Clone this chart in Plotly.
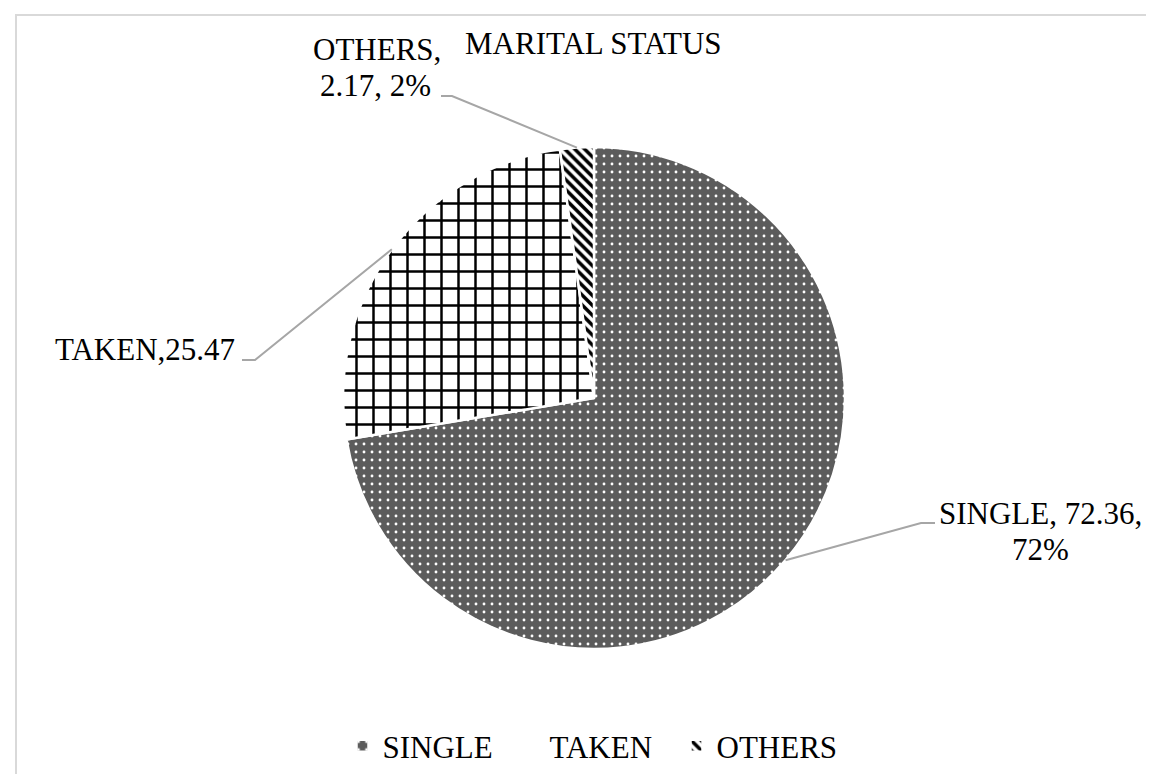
import math
import plotly.graph_objects as go

# ---------------- data ----------------
categories = ["SINGLE", "TAKEN", "OTHERS"]
values = [72.36, 25.47, 2.17]
chart_title = "MARITAL STATUS"

total = sum(values)
percents = [round(v / total * 100) for v in values]

# data-label text (as printed on the chart)
label_lines = [
    [f"{categories[0]}, {values[0]:.2f},", f"{percents[0]}%"],
    [f"{categories[1]},{values[1]:.2f}"],
    [f"{categories[2]},", f"{values[2]:.2f}, {percents[2]}%"],
]

# ---------------- layout constants (pixels) ----------------
W, H = 1154, 774
CX, CY, R = 586, 390, 251          # pie centre and radius
FONT = "Liberation Serif, Times New Roman, serif"
FS = 31
LEADER = "#a6a6a6"

# label placement: elbow of leader, end of short horizontal, and line centres
label_layout = [
    dict(elbow=(913, 515), tip=(927, 515), lines=[(1032, 505), (1032, 541)]),
    dict(elbow=(247, 352), tip=(234, 352), lines=[(137, 341)]),
    dict(elbow=(444, 88), tip=(433, 88), lines=[(369, 42), (368, 78)]),
]


def px(x):
    return x / W


def py(y):
    return 1 - y / H


fig = go.Figure()
fig.add_trace(go.Pie(
    labels=categories,
    values=values,
    sort=False,
    direction="clockwise",
    rotation=0,
    textinfo="none",
    domain=dict(x=[px(CX - R), px(CX + R)], y=[py(CY + R), py(CY - R)]),
    marker=dict(
        colors=["#5c5c5c", "#ffffff", "#ffffff"],
        line=dict(color="white", width=2.5),
        pattern=dict(
            shape=[".", "+", "\\"],
            fgcolor=["#ffffff", "#000000", "#000000"],
            bgcolor=["#5c5c5c", "#ffffff", "#ffffff"],
            size=[8, 17, 7],
            solidity=[0.1, 0.27, 0.5],
            fillmode="replace",
        ),
    ),
))

shapes = []
annotations = []

# chart-area border (top and left visible)
shapes.append(dict(type="rect", xref="paper", yref="paper",
                   x0=px(8), y0=py(7), x1=1.02, y1=-0.02,
                   line=dict(color="#d9d9d9", width=2), fillcolor="rgba(0,0,0,0)",
                   layer="below"))

cum = 0.0
for i, v in enumerate(values):
    mid = (cum + v / 2) / total
    cum += v
    th = 2 * math.pi * mid
    ex = CX + R * math.sin(th)
    ey = CY - R * math.cos(th)
    lay = label_layout[i]
    (bx, by), (tx, ty) = lay["elbow"], lay["tip"]
    path = (f"M {px(ex)},{py(ey)} L {px(bx)},{py(by)} L {px(tx)},{py(ty)}")
    shapes.append(dict(type="path", xref="paper", yref="paper", path=path,
                       line=dict(color=LEADER, width=2)))
    for text, (lx, ly) in zip(label_lines[i], lay["lines"]):
        annotations.append(dict(
            text=text, xref="paper", yref="paper", x=px(lx), y=py(ly),
            xanchor="center", yanchor="middle", showarrow=False,
            font=dict(family=FONT, size=FS, color="#000000"),
        ))

annotations.append(dict(
    text=chart_title, xref="paper", yref="paper", x=px(585), y=py(35),
    xanchor="center", yanchor="middle", showarrow=False,
    font=dict(family=FONT, size=FS, color="#000000"),
))

fig.update_layout(
    width=W, height=H,
    margin=dict(l=0, r=0, t=0, b=0),
    paper_bgcolor="white",
    plot_bgcolor="white",
    shapes=shapes,
    annotations=annotations,
    showlegend=True,
    legend=dict(
        orientation="h",
        x=px(585), xanchor="center",
        y=py(738), yanchor="middle",
        font=dict(family=FONT, size=FS, color="#000000"),
        bgcolor="rgba(0,0,0,0)",
        itemwidth=30,
        entrywidth=122,
        entrywidthmode="pixels",
    ),
)

fig.write_html("out.html")
